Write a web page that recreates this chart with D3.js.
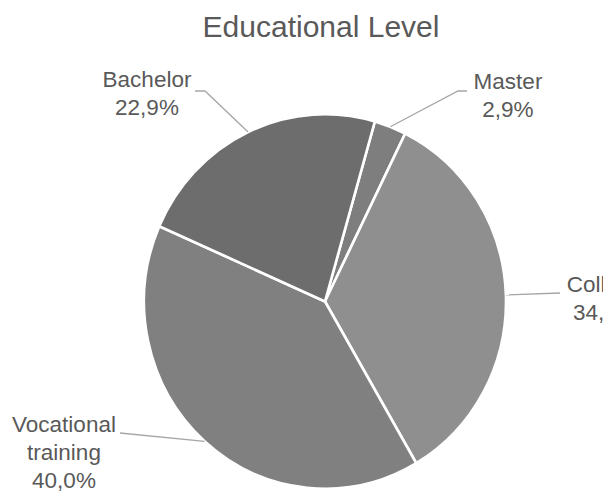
<!DOCTYPE html>
<html>
<head>
<meta charset="utf-8">
<script src="https://cdn.jsdelivr.net/npm/d3@7/dist/d3.min.js"></script>
<style>
  html, body { margin: 0; padding: 0; background: #fff; overflow: hidden; }
  svg { display: block; font-family: "Liberation Sans", Arial, sans-serif; }
</style>
</head>
<body>
<svg id="chart" width="603" height="496"></svg>
<script>
// Survey respondents by education level (counts, n = 35)
const categories = ["Master", "College", "Vocational training", "Bachelor"];
const counts = [1, 12, 14, 8];
const sliceColors = ["#7e7e7e", "#8f8f8f", "#808080", "#6d6d6d"];
// Label lines (multi-line where the label wraps)
const labelLines = [["Master"], ["College"], ["Vocational", "training"], ["Bachelor"]];

const width = 603, height = 496;
const cx = 325, cy = 301.5, radius = 181, yStretch = 1.035;
const firstSliceAngle = 16 * Math.PI / 180;

const svg = d3.select("#chart");

svg.append("text")
  .attr("x", 321).attr("y", 37)
  .attr("text-anchor", "middle")
  .attr("font-size", 30)
  .attr("fill", "#595959")
  .text("Educational Level");

const total = d3.sum(counts);
const fmt = v => (v * 100).toFixed(1).replace(".", ",") + "%";

const pie = d3.pie().sort(null)
  .startAngle(firstSliceAngle)
  .endAngle(firstSliceAngle + 2 * Math.PI);
const arcs = pie(counts);
const arc = d3.arc().innerRadius(0).outerRadius(radius);

const g = svg.append("g")
  .attr("transform", `translate(${cx},${cy}) scale(1,${yStretch})`);

g.selectAll("path")
  .data(arcs)
  .join("path")
  .attr("d", arc)
  .attr("fill", (d, i) => sliceColors[i])
  .attr("stroke", "#fff")
  .attr("stroke-width", 2.6)
  .attr("stroke-linejoin", "round");

// Label placement: centre of the text block and the point where the leader meets it
const labelLayout = [
  { x: 508, y: 89, join: [[467, 91], [458, 91]] },
  { x: 605, y: 292, join: [[560, 293]] },
  { x: 64, y: 432, join: [[120, 433]] },
  { x: 147, y: 87, join: [[195, 91], [205, 91]] }
];

function edgePoint(d) {
  const a = (d.startAngle + d.endAngle) / 2;
  return [cx + radius * Math.sin(a), cy - radius * Math.cos(a) * yStretch];
}

const labels = svg.append("g");
arcs.forEach((d, i) => {
  const L = labelLayout[i];
  const pts = L.join.slice().reverse();
  pts.push(edgePoint(d));
  // line runs from the text outwards to the slice edge
  const ordered = L.join.concat([edgePoint(d)]);
  labels.append("path")
    .attr("d", d3.line()(ordered))
    .attr("fill", "none")
    .attr("stroke", "#a6a6a6")
    .attr("stroke-width", 1.3);

  const lines = labelLines[i].concat([fmt(d.value / total)]);
  const t = labels.append("text")
    .attr("text-anchor", "middle")
    .attr("font-size", 22.5)
    .attr("fill", "#595959");
  lines.forEach((s, k) => {
    t.append("tspan")
      .attr("x", L.x)
      .attr("y", L.y + k * 28)
      .text(s);
  });
});
</script>
</body>
</html>
